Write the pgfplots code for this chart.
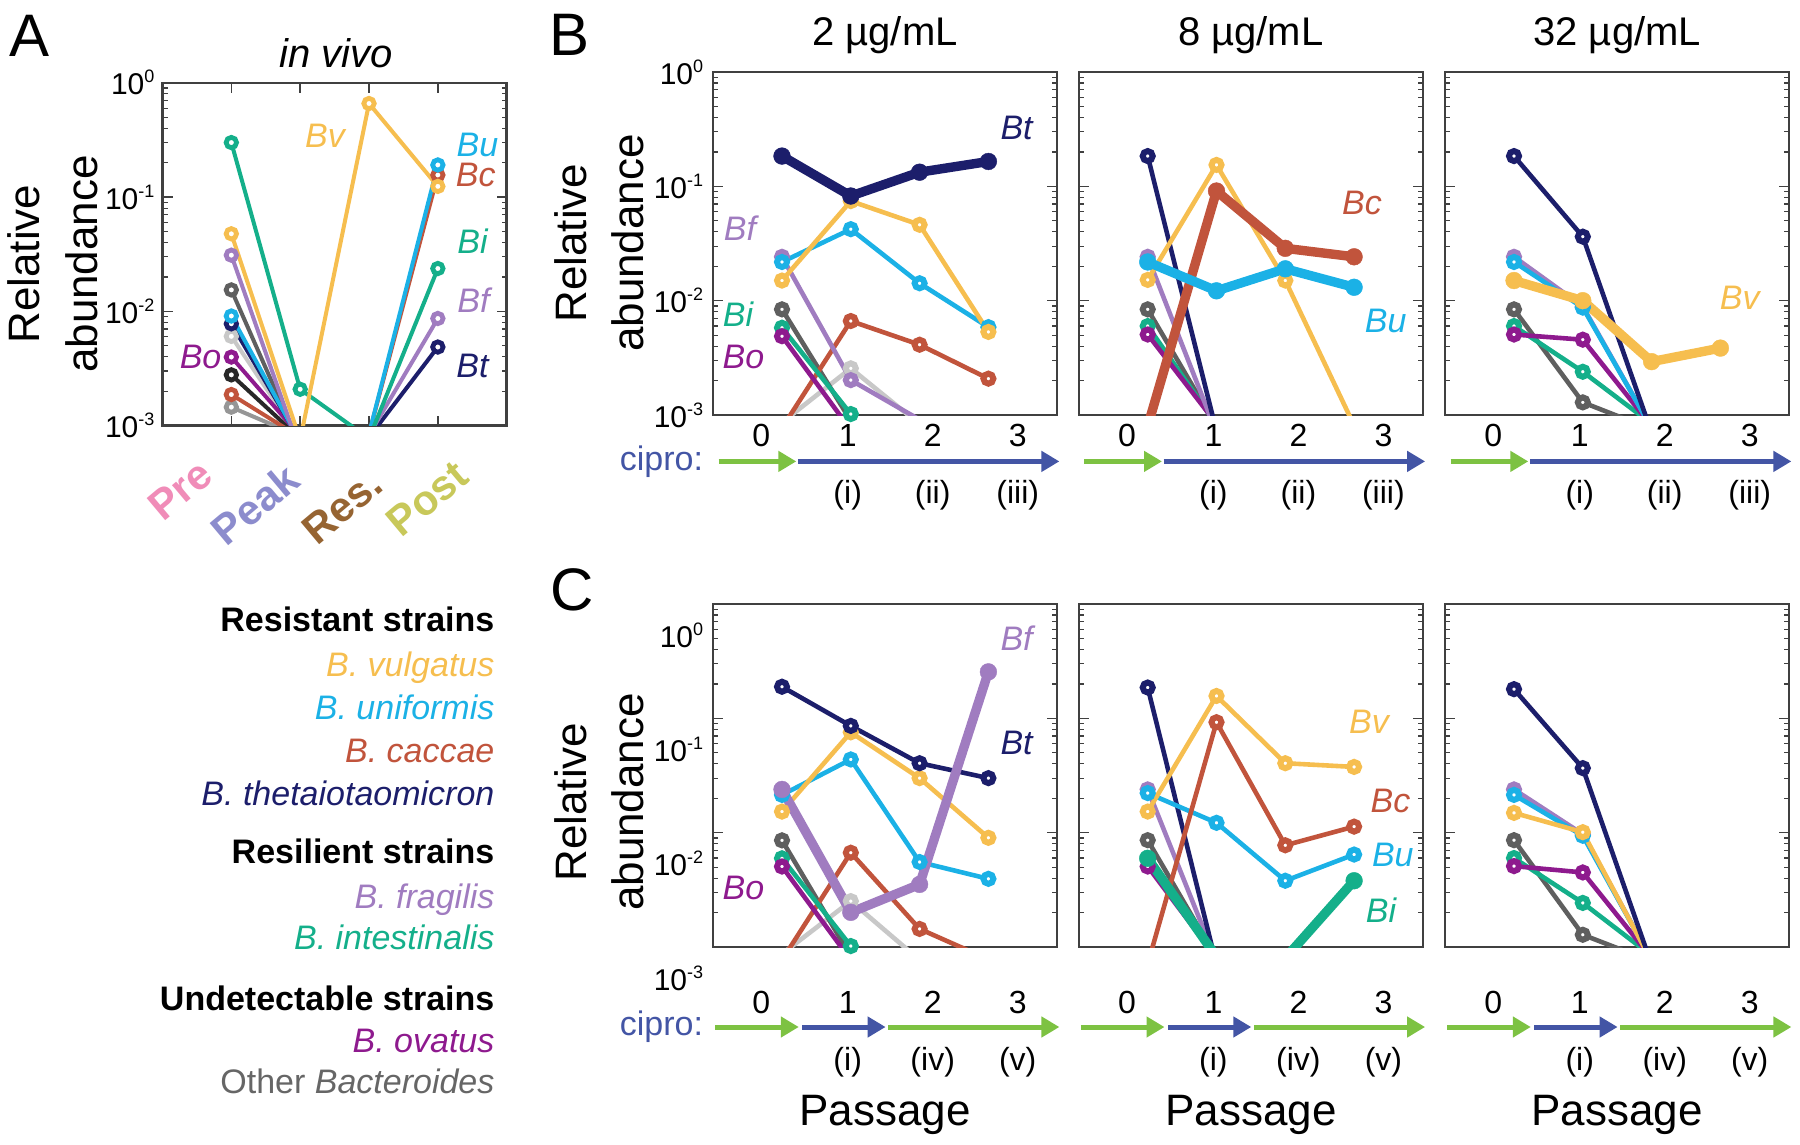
\documentclass[border=0pt]{standalone}
\usepackage{fontspec}
\setmainfont{Liberation Sans}
\usepackage{pgfplots}
\pgfplotsset{compat=1.18}
\usetikzlibrary{arrows.meta}

\definecolor{cBv}{RGB}{246,190,79}
\definecolor{cBu}{RGB}{27,177,230}
\definecolor{cBc}{RGB}{193,84,60}
\definecolor{cBt}{RGB}{28,30,107}
\definecolor{cBf}{RGB}{160,124,192}
\definecolor{cBi}{RGB}{20,175,138}
\definecolor{cBo}{RGB}{142,26,142}
\definecolor{cOd}{RGB}{95,95,95}
\definecolor{cOl}{RGB}{200,200,200}
\definecolor{cOk}{RGB}{40,40,40}
\definecolor{cOg}{RGB}{150,150,150}
\definecolor{cGreen}{RGB}{125,194,66}
\definecolor{cBlue}{RGB}{67,85,165}
\definecolor{cPre}{RGB}{240,140,184}
\definecolor{cPeak}{RGB}{140,140,205}
\definecolor{cRes}{RGB}{150,100,50}
\definecolor{cPost}{RGB}{200,200,90}

\newcommand{\fTick}{\fontsize{15}{18}\selectfont}
\newcommand{\fNum}{\fontsize{16}{19}\selectfont}
\newcommand{\fLeg}{\fontsize{17}{20}\selectfont}
\newcommand{\fTitle}{\fontsize{20}{24}\selectfont}
\newcommand{\fCat}{\fontsize{21}{25}\selectfont\bfseries}
\newcommand{\fLab}{\fontsize{22}{26}\selectfont}
\newcommand{\fPanel}{\fontsize{30}{36}\selectfont}
\newcommand{\ex}[1]{10\raisebox{6pt}{\fontsize{9}{9}\selectfont #1}}

\tikzset{
 sA/.style={line width=2pt, mark=*, mark size=2.6pt, mark options={fill=white, line width=2.4pt, solid}},
 sN/.style={line width=2.3pt, mark=*, mark size=2.5pt, mark options={fill=white, line width=3pt, solid}},
 sK/.style={line width=4.7pt, mark=*, mark size=4.2pt, mark options={line width=0.2pt, solid}},
 sp/.style={font=\fLeg\itshape, inner sep=0pt},
}

\pgfplotsset{
 every axis/.append style={
   scale only axis, width=172pt, height=171.5pt,
   xmin=0, xmax=5, ymin=1e-3, ymax=1,
   axis line style={line width=1.2pt, draw=black!75},
   major tick style={line width=0.8pt, draw=black!75},
   minor tick style={line width=0.6pt, draw=black!75},
   major tick length=5pt, minor tick length=2.5pt,
   ytick={1e-3,1e-2,1e-1,1},
   tick label style={font=\fTick},
   clip=true,
   anchor=north west,
 },
}

\begin{document}
\begin{tikzpicture}
\path[use as bounding box] (0,0) rectangle (900pt,-572.5pt);

% ---------------- Panel A
\begin{semilogyaxis}[at={(81.25pt,-41.4pt)}, width=172.1pt, height=171.4pt, xtick={1,2,3,4}, xticklabels={}, yticklabels={\ex{-3},\ex{-2},\ex{-1},\ex{0}}, yticklabel style={xshift=-0.5pt}]
\addplot[cOg, sA] coordinates {(1,0.00145)(2,0.0008)};
\addplot[cOk, sA] coordinates {(1,0.00278)(2,0.00077)};
\addplot[cOl, sA] coordinates {(1,0.00604)(2,0.00076)};
\addplot[cOd, sA] coordinates {(1,0.0154)(2,0.00066)};
\addplot[cBc, sA] coordinates {(1,0.00187)(2,0.00079)(3,0.00085)(4,0.156)};
\addplot[cBo, sA] coordinates {(1,0.00398)(2,0.00081)};
\addplot[cBt, sA] coordinates {(1,0.00778)(2,0.00074)(3,0.00079)(4,0.00487)};
\addplot[cBu, sA] coordinates {(1,0.0091)(2,0.00072)(3,0.00085)(4,0.191)};
\addplot[cBf, sA] coordinates {(1,0.031)(2,0.0006)(3,0.00083)(4,0.00866)};
\addplot[cBi, sA] coordinates {(1,0.30)(2,0.00208)(3,0.00077)(4,0.0237)};
\addplot[cBv, sA] coordinates {(1,0.0477)(2,0.00075)(3,0.659)(4,0.124)};
\end{semilogyaxis}

% ---------------- Panel B1
\begin{semilogyaxis}[at={(356.6pt,-36pt)}, xtick=\empty, yticklabels={\ex{-3},\ex{-2},\ex{-1},\ex{0}}, yticklabel style={xshift=-1.5pt}]
\addplot[cOl, sN] coordinates {(1,0.00086)(2,0.00256)(3,0.00083)};
\addplot[cOd, sN] coordinates {(1,0.0084)(2,0.00089)};
\addplot[cBc, sN] coordinates {(1,0.00077)(2,0.00664)(3,0.00412)(4,0.00208)};
\addplot[cBf, sN] coordinates {(1,0.0242)(2,0.00202)(3,0.00091)(4,0.0005)};
\addplot[cBi, sN] coordinates {(1,0.0058)(2,0.00102)};
\addplot[cBo, sN] coordinates {(1,0.00489)(2,0.00074)};
\addplot[cBu, sN] coordinates {(1,0.0218)(2,0.0422)(3,0.0142)(4,0.00587)};
\addplot[cBv, sN] coordinates {(1,0.015)(2,0.0743)(3,0.0461)(4,0.00533)};
\addplot[cBt, sK] coordinates {(1,0.184)(2,0.0823)(3,0.133)(4,0.165)};
\end{semilogyaxis}

% ---------------- Panel B2
\begin{semilogyaxis}[at={(539.45pt,-36pt)}, xtick=\empty, yticklabels={}]
\addplot[cOd, sN] coordinates {(1,0.0084)(2,0.00079)};
\addplot[cBi, sN] coordinates {(1,0.006)(2,0.00082)};
\addplot[cBo, sN] coordinates {(1,0.00506)(2,0.00084)};
\addplot[cBf, sN] coordinates {(1,0.0242)(2,0.0007)};
\addplot[cBt, sN] coordinates {(1,0.184)(2,0.00072)};
\addplot[cBv, sN] coordinates {(1,0.0152)(2,0.154)(3,0.015)(4,0.00081)};
\addplot[cBc, sK] coordinates {(1,0.0008)(2,0.091)(3,0.0287)(4,0.0242)};
\addplot[cBu, sK] coordinates {(1,0.0218)(2,0.0122)(3,0.019)(4,0.0131)};
\end{semilogyaxis}

% ---------------- Panel B3
\begin{semilogyaxis}[at={(722.6pt,-36pt)}, xtick=\empty, yticklabels={}]
\addplot[cOd, sN] coordinates {(1,0.0084)(2,0.00129)(3,0.00075)};
\addplot[cBi, sN] coordinates {(1,0.006)(2,0.00239)(3,0.00084)};
\addplot[cBo, sN] coordinates {(1,0.00506)(2,0.00456)(3,0.0008)};
\addplot[cBf, sN] coordinates {(1,0.0242)(2,0.0089)(3,0.00077)};
\addplot[cBu, sN] coordinates {(1,0.0218)(2,0.0087)(3,0.00077)};
\addplot[cBt, sN] coordinates {(1,0.184)(2,0.0363)(3,0.0007)};
\addplot[cBv, sK] coordinates {(1,0.015)(2,0.0100)(3,0.00293)(4,0.00385)};
\end{semilogyaxis}

% ---------------- Panel C1
\begin{semilogyaxis}[at={(356.6pt,-302pt)}, xtick=\empty, yticklabels={\ex{-3},\ex{-2},\ex{-1},\ex{0}}, yticklabel style={yshift=-15.5pt, xshift=-1.5pt}]
\addplot[cOl, sN] coordinates {(1,0.00087)(2,0.00252)(3,0.00077)};
\addplot[cOd, sN] coordinates {(1,0.00857)(2,0.00083)};
\addplot[cBc, sN] coordinates {(1,0.00077)(2,0.00668)(3,0.00144)(4,0.00078)};
\addplot[cBi, sN] coordinates {(1,0.00597)(2,0.00102)};
\addplot[cBo, sN] coordinates {(1,0.00506)(2,0.00077)};
\addplot[cBu, sN] coordinates {(1,0.0214)(2,0.0437)(3,0.00554)(4,0.00395)};
\addplot[cBv, sN] coordinates {(1,0.0153)(2,0.0755)(3,0.030)(4,0.00902)};
\addplot[cBt, sN] coordinates {(1,0.189)(2,0.0859)(3,0.0405)(4,0.030)};
\addplot[cBf, sK] coordinates {(1,0.0239)(2,0.00201)(3,0.00353)(4,0.255)};
\end{semilogyaxis}

% ---------------- Panel C2
\begin{semilogyaxis}[at={(539.45pt,-302pt)}, xtick=\empty, yticklabels={}]
\addplot[cOd, sN] coordinates {(1,0.0086)(2,0.0008)};
\addplot[cBo, sN] coordinates {(1,0.00506)(2,0.0008)};
\addplot[cBf, sN] coordinates {(1,0.0239)(2,0.00075)};
\addplot[cBt, sN] coordinates {(1,0.186)(2,0.0007)};
\addplot[cBu, sN] coordinates {(1,0.0222)(2,0.0122)(3,0.0038)(4,0.00644)};
\addplot[cBc, sN] coordinates {(1,0.00071)(2,0.0925)(3,0.00776)(4,0.0113)};
\addplot[cBv, sN] coordinates {(1,0.0153)(2,0.157)(3,0.0405)(4,0.0376)};
\addplot[cBi, sK] coordinates {(1,0.00597)(2,0.00082)(3,0.0008)(4,0.0038)};
\end{semilogyaxis}

% ---------------- Panel C3
\begin{semilogyaxis}[at={(722.6pt,-302pt)}, xtick=\empty, yticklabels={}]
\addplot[cOd, sN] coordinates {(1,0.0086)(2,0.00128)(3,0.00075)};
\addplot[cBi, sN] coordinates {(1,0.006)(2,0.00243)(3,0.00084)};
\addplot[cBo, sN] coordinates {(1,0.0051)(2,0.00449)(3,0.0008)};
\addplot[cBf, sN] coordinates {(1,0.0239)(2,0.0097)(3,0.00077)};
\addplot[cBu, sN] coordinates {(1,0.0214)(2,0.0094)(3,0.00077)};
\addplot[cBv, sN] coordinates {(1,0.0149)(2,0.0101)(3,0.00075)};
\addplot[cBt, sN] coordinates {(1,0.18)(2,0.0367)(3,0.0007)};
\end{semilogyaxis}

% ---------------- Annotations (pixel coordinates of the reference)
\begin{scope}[x=0.5pt, y=-0.5pt]
 \node[font=\fPanel, anchor=base] at (29.5,57) {A};
 \node[font=\fPanel, anchor=base] at (569.5,55.8) {B};
 \node[font=\fPanel, anchor=base] at (572,610.4) {C};
 \node[font=\fTitle\itshape, anchor=base] at (336,67.8) {in vivo};
 \node[font=\fTitle, anchor=base] at (885,45.6) {2 µg/mL};
 \node[font=\fTitle, anchor=base] at (1250.7,45.6) {8 µg/mL};
 \node[font=\fTitle, anchor=base] at (1617.2,45.6) {32 µg/mL};
 % y labels
 \node[font=\fLab, rotate=90] at (24,264) {Relative};
 \node[font=\fLab, rotate=90] at (82,264) {abundance};
 \node[font=\fLab, rotate=90] at (570.3,243) {Relative};
 \node[font=\fLab, rotate=90] at (627.5,243) {abundance};
 \node[font=\fLab, rotate=90] at (570.3,802) {Relative};
 \node[font=\fLab, rotate=90] at (627.5,802) {abundance};
 % categories of A
 \node[font=\fCat, rotate=40, text=cPre, inner sep=0pt] at (180,490) {Pre};
 \node[font=\fCat, rotate=40, text=cPeak, inner sep=0pt] at (254.8,504.7) {Peak};
 \node[font=\fCat, rotate=40, text=cRes, inner sep=0pt] at (342.3,506.7) {Res.};
 \node[font=\fCat, rotate=40, text=cPost, inner sep=0pt] at (427.3,498.8) {Post};
 % species labels A
 \node[sp, text=cBv] at (325,135.7) {Bv};
 \node[sp, text=cBu] at (477.5,144.6) {Bu};
 \node[sp, text=cBc] at (475.8,175) {Bc};
 \node[sp, text=cBi] at (472.5,241) {Bi};
 \node[sp, text=cBf] at (473.5,300) {Bf};
 \node[sp, text=cBt] at (472.5,366) {Bt};
 \node[sp, text=cBo] at (200.6,357) {Bo};
 % species labels B
 \node[sp, text=cBt] at (1016.6,128.4) {Bt};
 \node[sp, text=cBf] at (740,228) {Bf};
 \node[sp, text=cBi] at (738,314) {Bi};
 \node[sp, text=cBo] at (743.5,356.6) {Bo};
 \node[sp, text=cBc] at (1362,203) {Bc};
 \node[sp, text=cBu] at (1385.7,321) {Bu};
 \node[sp, text=cBv] at (1739.7,297.4) {Bv};
 % species labels C
 \node[sp, text=cBf] at (1016.6,638) {Bf};
 \node[sp, text=cBt] at (1016.6,742.8) {Bt};
 \node[sp, text=cBo] at (743.5,888) {Bo};
 \node[sp, text=cBv] at (1369,722) {Bv};
 \node[sp, text=cBc] at (1390.4,800.6) {Bc};
 \node[sp, text=cBu] at (1392.8,854.7) {Bu};
 \node[sp, text=cBi] at (1381,910.6) {Bi};
 % cipro labels
 \node[font=\fLeg, text=cBlue, anchor=base] at (661.4,470) {cipro:};
 \node[font=\fLeg, text=cBlue, anchor=base] at (661.4,1035.6) {cipro:};
 \foreach \L in {713.2,1078.9,1445.2} {
   \draw[cGreen, line width=2.5pt, -{Triangle[length=9pt,width=10pt]}] (\L+5.3,461.4) -- (\L+83.1,461.4);
   \draw[cBlue, line width=2.5pt, -{Triangle[length=9pt,width=10pt]}] (\L+84.6,461.4) -- (\L+346.2,461.4);
   \node[font=\fNum, anchor=base] at (\L+48.1,446) {0};
   \node[font=\fNum, anchor=base] at (\L+134.5,446) {1};
   \node[font=\fNum, anchor=base] at (\L+219.5,446) {2};
   \node[font=\fNum, anchor=base] at (\L+304.5,446) {3};
   \node[font=\fNum, anchor=base] at (\L+134.5,503.6) {(i)};
   \node[font=\fNum, anchor=base] at (\L+219.5,503.6) {(ii)};
   \node[font=\fNum, anchor=base] at (\L+304.5,503.6) {(iii)};
   \draw[cGreen, line width=2.5pt, -{Triangle[length=9pt,width=10pt]}] (\L+2,1027) -- (\L+85.6,1027);
   \draw[cBlue, line width=2.5pt, -{Triangle[length=9pt,width=10pt]}] (\L+89.2,1027) -- (\L+172.4,1027);
   \draw[cGreen, line width=2.5pt, -{Triangle[length=9pt,width=10pt]}] (\L+175,1027) -- (\L+346.2,1027);
   \node[font=\fNum, anchor=base] at (\L+48.1,1013) {0};
   \node[font=\fNum, anchor=base] at (\L+134.5,1013) {1};
   \node[font=\fNum, anchor=base] at (\L+219.5,1013) {2};
   \node[font=\fNum, anchor=base] at (\L+304.5,1013) {3};
   \node[font=\fNum, anchor=base] at (\L+134.5,1070) {(i)};
   \node[font=\fNum, anchor=base] at (\L+219.5,1070) {(iv)};
   \node[font=\fNum, anchor=base] at (\L+304.5,1070) {(v)};
   \node[font=\fLab, anchor=base] at (\L+172,1125) {Passage};
 }
 % legend
 \node[font=\fLeg\bfseries, anchor=base east, inner sep=0pt] at (494.8,631.3) {Resistant strains};
 \node[font=\fLeg\itshape, text=cBv, anchor=base east, inner sep=0pt] at (494.8,676.1) {B. vulgatus};
 \node[font=\fLeg\itshape, text=cBu, anchor=base east, inner sep=0pt] at (494.8,719.2) {B. uniformis};
 \node[font=\fLeg\itshape, text=cBc, anchor=base east, inner sep=0pt] at (494.8,762.3) {B. caccae};
 \node[font=\fLeg\itshape, text=cBt, anchor=base east, inner sep=0pt] at (494.8,805.4) {B. thetaiotaomicron};
 \node[font=\fLeg\bfseries, anchor=base east, inner sep=0pt] at (494.8,863.4) {Resilient strains};
 \node[font=\fLeg\itshape, text=cBf, anchor=base east, inner sep=0pt] at (494.8,908.2) {B. fragilis};
 \node[font=\fLeg\itshape, text=cBi, anchor=base east, inner sep=0pt] at (494.8,949.6) {B. intestinalis};
 \node[font=\fLeg\bfseries, anchor=base east, inner sep=0pt] at (494.8,1010) {Undetectable strains};
 \node[font=\fLeg\itshape, text=cBo, anchor=base east, inner sep=0pt] at (494.8,1052.4) {B. ovatus};
 \node[font=\fLeg, text=black!60, anchor=base east, inner sep=0pt] at (494.8,1093.9) {Other \textit{Bacteroides}};
\end{scope}
\end{tikzpicture}
\end{document}
